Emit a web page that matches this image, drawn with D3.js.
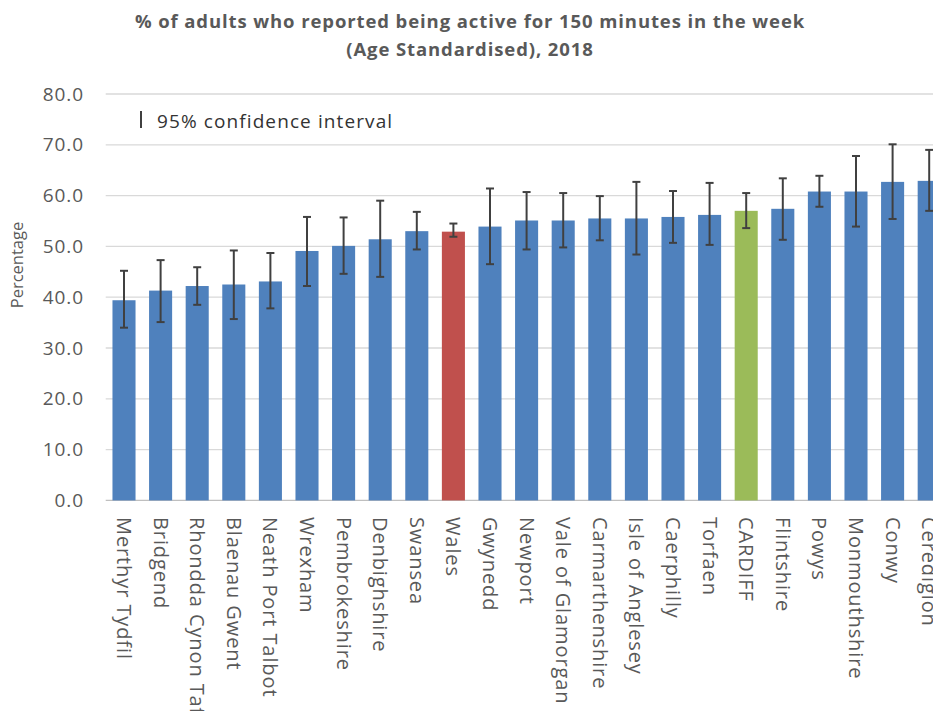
<!DOCTYPE html>
<html><head><meta charset="utf-8">
<script src="https://cdn.jsdelivr.net/npm/d3@7"></script>
<style>body{margin:0;background:#fff;overflow:hidden}svg{display:block}</style>
</head><body>
<svg id="c" width="933" height="711"></svg>
<script>
const categories = ["Merthyr Tydfil","Bridgend","Rhondda Cynon Taf","Blaenau Gwent","Neath Port Talbot","Wrexham","Pembrokeshire","Denbighshire","Swansea","Wales","Gwynedd","Newport","Vale of Glamorgan","Carmarthenshire","Isle of Anglesey","Caerphilly","Torfaen","CARDIFF","Flintshire","Powys","Monmouthshire","Conwy","Ceredigion"];
const values = [39.4,41.3,42.2,42.5,43.1,49.1,50.1,51.4,53.0,52.9,53.9,55.1,55.1,55.5,55.5,55.8,56.2,57.0,57.4,60.8,60.8,62.7,62.9];
const ciLower = [34.0,35.1,38.5,35.7,37.8,42.2,44.6,44.0,49.4,51.9,46.5,49.4,49.8,51.2,48.4,50.7,50.3,53.6,51.3,57.8,53.9,55.4,57.0];
const ciUpper = [45.2,47.3,45.9,49.2,48.7,55.8,55.7,59.0,56.8,54.5,61.4,60.7,60.5,59.9,62.7,60.9,62.5,60.5,63.4,63.9,67.8,70.1,69.0];
const yTicks = [0,10,20,30,40,50,60,70,80];
const titleLines = ["% of adults who reported being active for 150 minutes in the week","(Age Standardised), 2018"];

const svg = d3.select("#c");
const font = "'Open Sans', sans-serif";
const x = d3.scaleBand().domain(categories).range([105.7, 947.5]).paddingInner(0.37).paddingOuter(0.185);
const y = d3.scaleLinear().domain([0,80]).range([500.4, 94]);

const colorFor = c => c === "Wales" ? "#C0504D" : (c === "CARDIFF" ? "#9BBB59" : "#4F81BD");

// gridlines
svg.append("g").selectAll("line").data(yTicks).join("line")
  .attr("x1", 105.7).attr("x2", 947.5)
  .attr("y1", d => y(d)).attr("y2", d => y(d))
  .attr("stroke", d => d === 0 ? "#bfbfbf" : "#d9d9d9").attr("stroke-width", 1.3);

// y tick labels
svg.append("g").selectAll("text").data(yTicks).join("text")
  .attr("x", 84).attr("y", d => y(d)).attr("dy", "0.35em")
  .attr("text-anchor", "end").attr("font-family", font).attr("font-size", 19)
  .attr("letter-spacing", 0.9)
  .attr("fill", "#595959").text(d => d.toFixed(1));

// bars
svg.append("g").selectAll("rect").data(categories).join("rect")
  .attr("x", d => x(d)).attr("width", x.bandwidth())
  .attr("y", (d,i) => y(values[i])).attr("height", (d,i) => y(0) - y(values[i]))
  .attr("fill", d => colorFor(d));

// error bars
const eb = svg.append("g").attr("stroke", "#404040").attr("stroke-width", 2);
categories.forEach((c,i) => {
  const cx = x(c) + x.bandwidth()/2;
  eb.append("line").attr("x1", cx).attr("x2", cx).attr("y1", y(ciLower[i])).attr("y2", y(ciUpper[i]));
  eb.append("line").attr("x1", cx-4).attr("x2", cx+4).attr("y1", y(ciLower[i])).attr("y2", y(ciLower[i]));
  eb.append("line").attr("x1", cx-4).attr("x2", cx+4).attr("y1", y(ciUpper[i])).attr("y2", y(ciUpper[i]));
});

// x labels
svg.append("g").selectAll("text").data(categories).join("text")
  .attr("transform", d => `translate(${x(d)+x.bandwidth()/2},517) rotate(90)`)
  .attr("dy", "0.35em").attr("text-anchor", "start")
  .attr("font-family", font).attr("font-size", 20).attr("letter-spacing", 0.9)
  .attr("fill", "#595959")
  .text(d => d);

// y axis title
svg.append("text").attr("transform", "translate(17,265) rotate(-90)")
  .attr("dy", "0.35em").attr("text-anchor", "middle")
  .attr("font-family", font).attr("font-size", 16.5).attr("fill", "#595959").text("Percentage");

// title
svg.append("g").selectAll("text").data(titleLines).join("text")
  .attr("x", 470).attr("y", (d,i) => 28 + i*28)
  .attr("text-anchor", "middle").attr("font-family", font).attr("font-size", 18.5)
  .attr("letter-spacing", 0.9)
  .attr("font-weight", "bold").attr("fill", "#595959").text(d => d);

// legend
svg.append("line").attr("x1", 141).attr("x2", 141).attr("y1", 111).attr("y2", 128)
  .attr("stroke", "#404040").attr("stroke-width", 2);
svg.append("text").attr("x", 157).attr("y", 121).attr("dy", "0.35em")
  .attr("font-family", font).attr("font-size", 19).attr("letter-spacing", 1.1)
  .attr("fill", "#333").text("95% confidence interval");
</script>
</body></html>
